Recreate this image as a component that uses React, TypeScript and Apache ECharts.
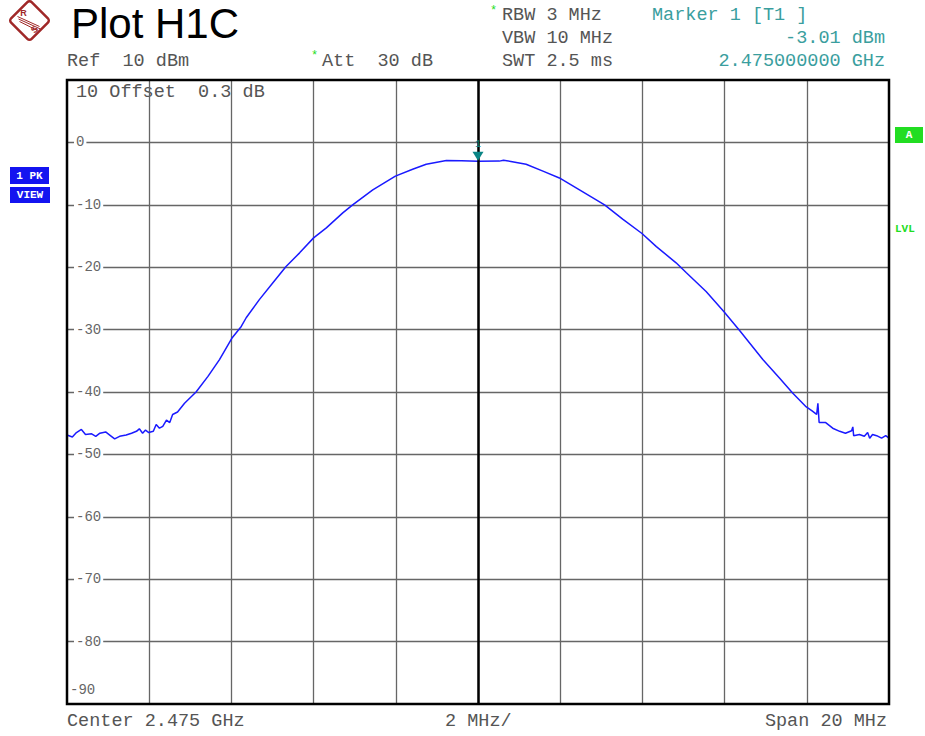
import React, { useEffect, useRef } from "react";
import * as echarts from "echarts";

// Frequency offset from centre (MHz) and trace level (dBm)
const freqMHz = [
  -10.0, -9.87, -9.77, -9.65, -9.55, -9.4, -9.3, -9.2, -9.06, -8.96, -8.84, -8.72, -8.56, -8.43, -8.31,
  -8.24, -8.16, -8.09, -8.01, -7.9, -7.83, -7.75, -7.67, -7.58, -7.5, -7.43, -7.31, -7.14, -6.86, -6.57,
  -6.29, -5.99, -5.76, -5.64, -5.32, -4.99, -4.67, -4.34, -4.0, -3.69, -3.29, -3.05, -2.56, -2.01, -1.59,
  -1.26, -0.77, -0.4, 0, 0.52, 0.62, 0.8, 1.17, 1.58, 1.98, 2.47, 3.08, 3.52, 3.99, 4.34, 4.82, 5.07,
  5.55, 5.98, 6.36, 6.93, 7.34, 7.66, 7.97, 8.12, 8.24, 8.27, 8.3, 8.46, 8.63, 8.8, 8.94, 9.09, 9.12,
  9.14, 9.28, 9.4, 9.48, 9.53, 9.6, 9.7, 9.82, 9.92, 10.0,
];
const levelDbm = [
  -46.9, -47.2, -46.5, -46.0, -46.8, -46.7, -47.1, -46.6, -46.4, -46.9, -47.5, -47.1, -46.9, -46.6, -46.3,
  -45.9, -46.6, -46.1, -46.5, -46.3, -45.2, -45.8, -45.5, -44.5, -44.9, -43.6, -43.2, -41.8, -40.0, -37.5,
  -34.8, -31.4, -29.5, -28.1, -25.2, -22.5, -19.9, -17.7, -15.3, -13.7, -11.3, -10.0, -7.6, -5.4, -4.3,
  -3.5, -2.9, -2.95, -3.01, -3.0, -2.85, -3.05, -3.5, -4.6, -5.7, -7.6, -10.0, -12.3, -14.6, -16.7, -19.3, -20.9,
  -23.9, -27.1, -30.1, -34.8, -37.8, -40.2, -42.3, -43.0, -43.6, -41.8, -44.9, -44.9, -45.8, -46.3, -46.6, -46.2, -45.6,
  -47.0, -46.8, -47.1, -46.5, -47.4, -46.8, -47.0, -47.4, -47.0, -47.4,
];

const marker = { freq: 0, level: -3.01 };
const yTicks = { min: -90, max: 10, interval: 10 };
const xTicks = { min: -10, max: 10, interval: 2 };

const MONO = "Liberation Mono";
const GRAY = "#555";
const TEAL = "#3a9e9e";
const GREEN = "#22dd22";

function monoText(text: string, x: number, y: number, fill = GRAY, align = "left", size = 18.5) {
  return {
    type: "text",
    x,
    y,
    style: { text, fill, font: `${size}px "${MONO}"`, align, verticalAlign: "middle" },
  };
}

export default function App() {
  const ref = useRef<HTMLDivElement>(null);
  useEffect(() => {
    if (!ref.current) return;
    const chart = echarts.init(ref.current, null, { renderer: "svg" });
    const data = freqMHz.map((f, i) => [f, levelDbm[i]]);
    chart.setOption({
      animation: false,
      backgroundColor: "#fff",
      grid: {
        left: 67,
        top: 80,
        width: 822,
        height: 624,
        show: true,
        borderColor: "#000",
        borderWidth: 2.5,
        backgroundColor: "transparent",
        z: 5,
      },
      xAxis: {
        type: "value",
        min: xTicks.min,
        max: xTicks.max,
        interval: xTicks.interval,
        axisLine: { show: false },
        axisTick: { show: false },
        axisLabel: { show: false },
        splitLine: { show: true, showMinLine: false, showMaxLine: false, lineStyle: { color: "#666", width: 1.3 } },
      },
      yAxis: {
        type: "value",
        min: yTicks.min,
        max: yTicks.max,
        interval: yTicks.interval,
        axisLine: { show: false },
        axisTick: { show: false },
        splitLine: { show: true, showMinLine: false, showMaxLine: false, lineStyle: { color: "#666", width: 1.3 } },
        axisLabel: {
          inside: true,
          margin: 7,
          color: "#666",
          fontFamily: MONO,
          fontSize: 14,
          formatter: (v: number) => (v === 10 || v === -90 ? "" : `{n|${v}}`),
          rich: {
            n: { backgroundColor: "#fff", padding: [0, 2, 0, 2], fontFamily: MONO, fontSize: 14, color: "#666" },
          },
        },
        z: 3,
      },
      series: [
        {
          type: "line",
          data,
          showSymbol: false,
          symbol: "none",
          lineStyle: { color: "#1a1aff", width: 1.5 },
          z: 4,
          markLine: {
            silent: true,
            symbol: ["none", "none"],
            label: { show: false },
            lineStyle: { color: "#000", width: 2.5, type: "solid" },
            data: [{ xAxis: marker.freq }],
          },
          markPoint: {
            symbol: "triangle",
            symbolRotate: 180,
            symbolSize: [11, 9],
            symbolOffset: [0, -5],
            itemStyle: { color: "#0a8585" },
            label: {
              show: true,
              formatter: "1",
              position: "top",
              distance: 2,
              color: "#0a8585",
              fontSize: 10,
              fontFamily: MONO,
            },
            data: [{ coord: [marker.freq, marker.level] }],
          },
        },
      ],
      graphic: [
        // R&S logo
        {
          type: "group",
          x: 29.5,
          y: 20.5,
          children: [
            {
              type: "rect",
              rotation: Math.PI / 4,
              shape: { x: -14.5, y: -14.5, width: 29, height: 29, r: 3 },
              style: { fill: "#fff", stroke: "#a02828", lineWidth: 2.5 },
            },
            { type: "line", shape: { x1: -12, y1: -4, x2: 10, y2: 6 }, style: { stroke: "#a02828", lineWidth: 1 } },
            { type: "line", shape: { x1: -11, y1: -1.5, x2: 11, y2: 8.5 }, style: { stroke: "#a02828", lineWidth: 1 } },
            { type: "line", shape: { x1: -10, y1: 1, x2: 8, y2: 10 }, style: { stroke: "#a02828", lineWidth: 1 } },
            {
              type: "text",
              x: -6,
              y: -8,
              style: { text: "R", fill: "#a02828", font: 'bold 9px "Liberation Sans"', align: "center", verticalAlign: "middle" },
            },
            {
              type: "text",
              x: 5,
              y: 9,
              rotation: Math.PI / 4,
              style: { text: "S", fill: "#a02828", font: 'bold 9px "Liberation Sans"', align: "center", verticalAlign: "middle" },
            },
          ],
        },
        {
          type: "text",
          x: 71,
          y: 23,
          style: { text: "Plot H1C", fill: "#000", font: '42px "Liberation Sans"', align: "left", verticalAlign: "middle" },
        },
        monoText("Ref  10 dBm", 67, 61),
        { type: "text", x: 311, y: 56, style: { text: "*", fill: GREEN, font: `12px "${MONO}"`, verticalAlign: "middle" } },
        monoText("Att  30 dB", 322, 61),
        { type: "text", x: 490, y: 11, style: { text: "*", fill: GREEN, font: `12px "${MONO}"`, verticalAlign: "middle" } },
        monoText("RBW 3 MHz", 502, 15),
        monoText("VBW 10 MHz", 502, 38),
        monoText("SWT 2.5 ms", 502, 61),
        monoText("Marker 1 [T1 ]", 652, 15, TEAL),
        monoText("-3.01 dBm", 885, 38, TEAL, "right"),
        monoText("2.475000000 GHz", 885, 61, TEAL, "right"),
        monoText("10 Offset  0.3 dB", 76, 92, GRAY),
        monoText("-90", 70, 690, "#666", "left", 14),
        monoText("Center 2.475 GHz", 67, 721),
        monoText("2 MHz/", 445, 721),
        monoText("Span 20 MHz", 887, 721, GRAY, "right"),
        // left boxes
        { type: "rect", shape: { x: 10, y: 167, width: 39, height: 17 }, style: { fill: "#1414f0" } },
        {
          type: "text",
          x: 29.5,
          y: 175.5,
          style: { text: "1 PK", fill: "#fff", font: `bold 11px "${MONO}"`, align: "center", verticalAlign: "middle" },
        },
        { type: "rect", shape: { x: 10, y: 187, width: 40, height: 16 }, style: { fill: "#1414f0" } },
        {
          type: "text",
          x: 30,
          y: 195,
          style: { text: "VIEW", fill: "#fff", font: `bold 11px "${MONO}"`, align: "center", verticalAlign: "middle" },
        },
        // right indicators
        { type: "rect", shape: { x: 895, y: 127, width: 28, height: 16 }, style: { fill: GREEN } },
        {
          type: "text",
          x: 909,
          y: 135,
          style: { text: "A", fill: "#fff", font: `bold 11px "${MONO}"`, align: "center", verticalAlign: "middle" },
        },
        {
          type: "text",
          x: 895,
          y: 229,
          style: { text: "LVL", fill: GREEN, font: `bold 11px "${MONO}"`, align: "left", verticalAlign: "middle" },
        },
      ],
    });
    return () => chart.dispose();
  }, []);
  return <div ref={ref} style={{ position: "absolute", left: 0, top: 0, width: 925, height: 736 }} />;
}
